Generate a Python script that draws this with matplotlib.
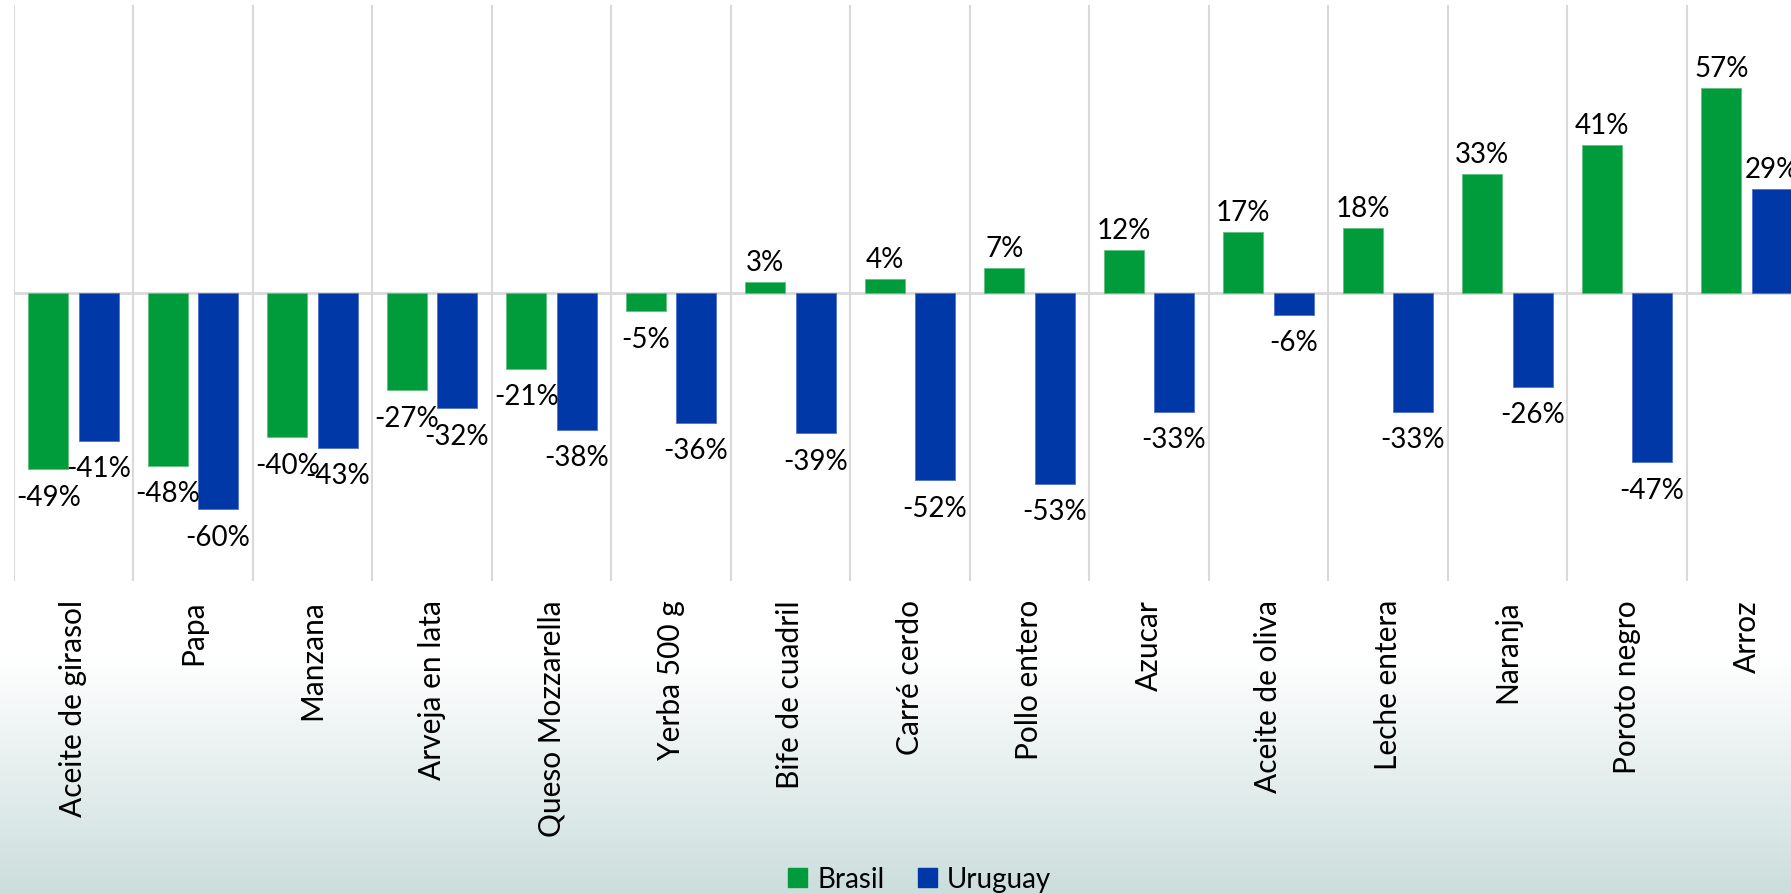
import matplotlib
matplotlib.use('Agg')
import matplotlib.pyplot as plt
import matplotlib.patches as mpatches
import numpy as np

# data
productos = ['Aceite de girasol', 'Papa', 'Manzana', 'Arveja en lata', 'Queso Mozzarella',
             'Yerba 500 g', 'Bife de cuadril', 'Carré cerdo', 'Pollo entero', 'Azucar',
             'Aceite de oliva', 'Leche entera', 'Naranja', 'Poroto negro', 'Arroz']
brasil = [-49, -48, -40, -27, -21, -5, 3, 4, 7, 12, 17, 18, 33, 41, 57]
uruguay = [-41, -60, -43, -32, -38, -36, -39, -52, -53, -33, -6, -33, -26, -47, 29]
series = ['Brasil', 'Uruguay']

verde = '#009B3A'
azul = '#0038A8'

plt.rcParams['font.family'] = ['Lato', 'DejaVu Sans']

fig = plt.figure(figsize=(17.91, 8.95), dpi=100)

# background gradient (white on top, grey-green at the bottom)
H = 895
ys = np.arange(H)[:, None]
t = np.clip((ys - 656) / (H - 656), 0, 1)
top = np.array([255, 255, 255]) / 255
bot = np.array([203, 222, 220]) / 255
grad = top[None, None, :] * (1 - t[..., None]) + bot[None, None, :] * t[..., None]
bg = fig.add_axes([0, 0, 1, 1], zorder=-10)
bg.imshow(np.repeat(grad, 2, axis=1), aspect='auto', extent=[0, 1, 0, 1])
bg.axis('off')

ax = fig.add_axes([13.7 / 1791, 1 - 582 / 895, 1792.5 / 1791, 576 / 895])
ax.set_facecolor('none')

x = np.arange(len(productos))
w = 0.335
off = 0.21
b1 = ax.bar(x - off, brasil, w, color=verde, edgecolor='#5fc27f', linewidth=0.6, zorder=3)
b2 = ax.bar(x + off, uruguay, w, color=azul, edgecolor='#4f6fd0', linewidth=0.6, zorder=3)

for bars, vals in ((b1, brasil), (b2, uruguay)):
    for r, v in zip(bars, vals):
        cx = r.get_x() + r.get_width() / 2
        if v >= 0:
            ax.annotate(f'{v}%', (cx, v), xytext=(0, 5), textcoords='offset points',
                        ha='center', va='bottom', fontsize=20, color='black')
        else:
            ax.annotate(f'{v}%', (cx, v), xytext=(0, -10.5), textcoords='offset points',
                        ha='center', va='top', fontsize=20, color='black')

ax.set_xlim(-0.5, len(productos) - 0.5)
ax.set_ylim(-80, 80)
for b in np.arange(-0.5, len(productos) + 0.5, 1):
    ax.axvline(b, color='#d9d9d9', lw=1.5, zorder=1)
ax.axhline(0, color='#d9d9d9', lw=2, zorder=2)

ax.set_yticks([])
ax.set_xticks(x)
ax.set_xticklabels(productos, rotation=90, fontsize=21.5, va='top', ha='center')
ax.tick_params(axis='x', length=0, pad=13)
for s in ax.spines.values():
    s.set_visible(False)

handles = [mpatches.Patch(color=verde), mpatches.Patch(color=azul)]
fig.legend(handles, series, loc='center', bbox_to_anchor=(919.5 / 1791, 15 / 895),
           ncol=2, frameon=False, fontsize=20, handlelength=0.7, handleheight=0.7,
           handletextpad=0.35, columnspacing=1.2)

plt.savefig('out.png', dpi=100)
